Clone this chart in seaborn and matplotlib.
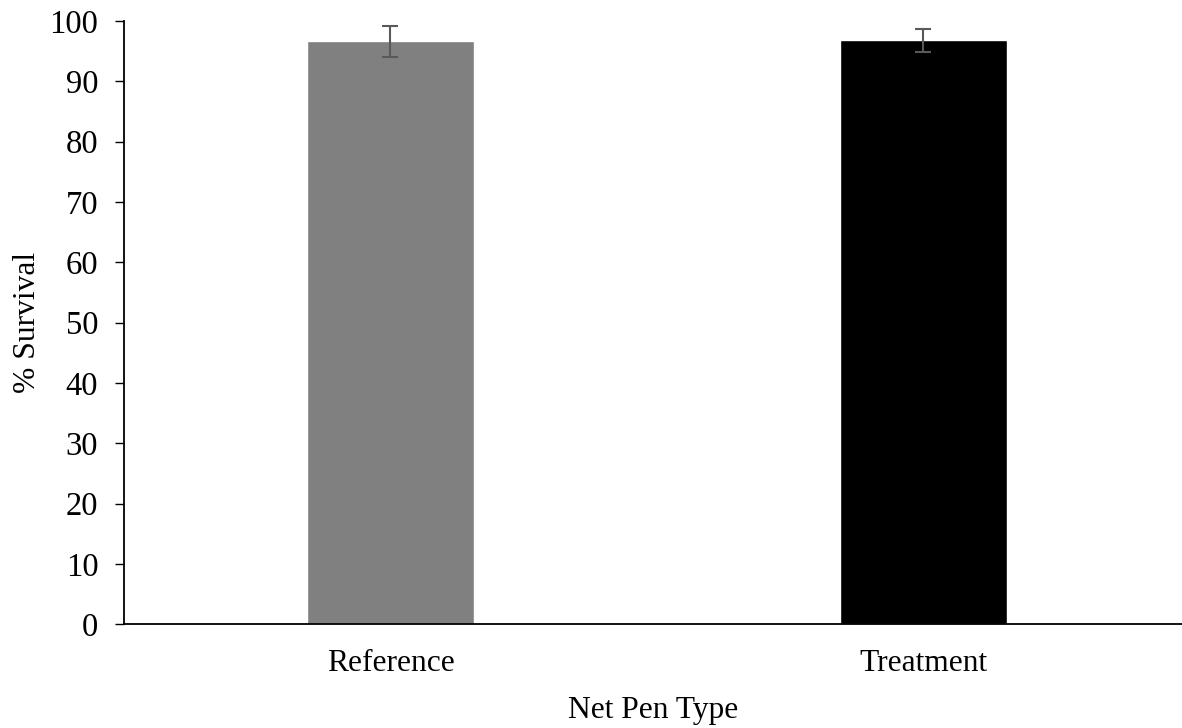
import pandas as pd
import seaborn as sns
import matplotlib.pyplot as plt
import numpy as np

# values
pen_types = ["Reference", "Treatment"]
survival = [96.6, 96.8]
survival_err = [2.5, 1.9]
bar_colors = ["#808080", "#000000"]

df = pd.DataFrame({"Net Pen Type": pen_types, "% Survival": survival})

sns.set_theme(style="ticks")
plt.rcParams["font.family"] = ["Liberation Serif", "DejaVu Serif"]
plt.rcParams["text.color"] = "black"
plt.rcParams["axes.labelcolor"] = "black"
plt.rcParams["xtick.color"] = "black"
plt.rcParams["ytick.color"] = "black"

fig = plt.figure(figsize=(11.82, 7.28), dpi=100)
ax = fig.add_axes([0.1049, 0.1424, 0.8951, 0.8288])

sns.barplot(data=df, x="Net Pen Type", y="% Survival", hue="Net Pen Type",
            palette=bar_colors, width=0.313, errorbar=None, legend=False,
            saturation=1, ax=ax)
ax.errorbar(np.arange(len(pen_types)), survival, yerr=survival_err, fmt="none",
            ecolor="#595959", elinewidth=1.5, capsize=6, capthick=1.5)

ax.set_xlim(-0.5, 1.485)
ax.set_ylim(0, 100)
ax.set_yticks(range(0, 101, 10))
ax.tick_params(axis="y", labelsize=23.5, length=6.5, width=1, pad=12, direction="out")
ax.tick_params(axis="x", labelsize=22.7, length=0, pad=18)
ax.set_xlabel("Net Pen Type", fontsize=22.7, labelpad=13)
ax.set_ylabel("% Survival", fontsize=22.7, labelpad=5)

for side in ["top", "right"]:
    ax.spines[side].set_visible(False)
for side in ["left", "bottom"]:
    ax.spines[side].set_linewidth(1.3)
    ax.spines[side].set_color("black")

fig.savefig("out.png", dpi=100)
